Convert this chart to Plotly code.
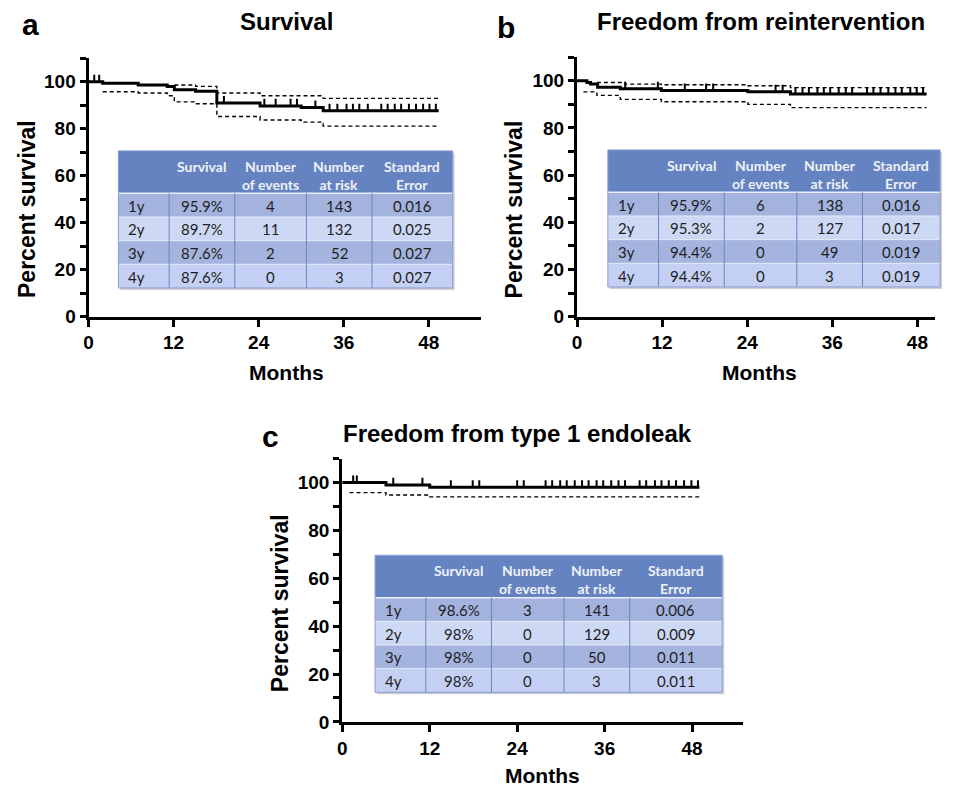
import plotly.graph_objects as go

W, H = 959, 799

# ---------------- data ----------------
MONTH_TICKS = [0, 12, 24, 36, 48]
PCT_TICKS = [0, 10, 20, 30, 40, 50, 60, 70, 80, 90, 100, 110]
PCT_LABELS = ["0", "", "20", "", "40", "", "60", "", "80", "", "100", ""]

# panel a: Survival
a_time = [0, 2.0, 7.0, 11.1, 12.1, 15.1, 18.1, 24.2, 30.0, 33.1, 49.4]
a_surv = [100, 99.3, 98.6, 97.9, 96.6, 95.9, 90.9, 89.7, 89.0, 87.6, 87.6]
a_up_time = [12.1, 15.1, 18.1, 24.2, 33.1, 49.4]
a_up = [98.6, 98.0, 95.2, 94.0, 92.9, 92.9]
a_lo_time = [2.0, 7.0, 11.1, 12.1, 15.1, 18.1, 24.2, 30.0, 33.1, 49.4]
a_lo = [95.7, 95.2, 94.0, 91.4, 90.6, 85.2, 83.7, 82.8, 81.1, 81.1]
a_cens = [0.8, 1.5, 19.1, 24.8, 26.4, 28.5, 29.4, 32.0, 34.0, 35.1, 36.4, 37.3,
          38.2, 39.4, 41.3, 42.2, 43.2, 44.1, 45.2, 46.2, 47.2, 48.1, 49.0]

# panel b: Freedom from reintervention
b_time = [0, 1.4, 1.9, 2.9, 6.1, 11.9, 24.1, 30.1, 49.3]
b_surv = [100, 99.3, 98.6, 97.3, 96.6, 95.9, 95.3, 94.4, 94.4]
b_up_time = [2.8, 6.8, 11.9, 24.1, 30.1, 49.3]
b_up = [99.3, 98.6, 98.3, 97.9, 97.1, 97.1]
b_lo_time = [0.9, 2.8, 6.1, 11.9, 24.1, 30.1, 49.3]
b_lo = [95.3, 93.8, 92.1, 91.1, 90.0, 88.6, 88.6]
b_cens = [6.8, 11.4, 15.2, 18.2, 19.2, 28.0, 29.0, 30.8, 31.8, 32.7, 33.9, 34.8,
          35.7, 36.9, 37.9, 38.8, 40.9, 41.8, 42.8, 43.9, 44.9, 45.8, 47.0, 47.9, 48.8]

# panel c: Freedom from type 1 endoleak
c_time = [0, 6.0, 12.0, 49.0]
c_surv = [100, 99.0, 98.0, 98.0]
c_lo_time = [1.0, 6.0, 12.0, 49.0]
c_lo = [95.8, 94.8, 94.0, 94.0]
c_cens = [1.5, 2.0, 7.0, 11.0, 14.9, 17.9, 18.8, 24.0, 24.9, 27.9, 28.8, 29.9, 30.8,
          31.9, 32.9, 33.8, 34.9, 35.8, 36.9, 37.9, 38.8, 40.8, 41.7, 42.9, 43.8,
          44.8, 45.8, 46.9, 47.9, 48.8]

# tables
tab_header = ["", "Survival", "Number<br>of events", "Number<br>at risk", "Standard<br>Error"]
tab_years = ["1y", "2y", "3y", "4y"]
a_tab_surv = ["95.9%", "89.7%", "87.6%", "87.6%"]
a_tab_events = ["4", "11", "2", "0"]
a_tab_risk = ["143", "132", "52", "3"]
a_tab_se = ["0.016", "0.025", "0.027", "0.027"]
b_tab_surv = ["95.9%", "95.3%", "94.4%", "94.4%"]
b_tab_events = ["6", "2", "0", "0"]
b_tab_risk = ["138", "127", "49", "3"]
b_tab_se = ["0.016", "0.017", "0.019", "0.019"]
c_tab_surv = ["98.6%", "98%", "98%", "98%"]
c_tab_events = ["3", "0", "0", "0"]
c_tab_risk = ["141", "129", "50", "3"]
c_tab_se = ["0.006", "0.009", "0.011", "0.011"]

# ---------------- helpers ----------------
def px(x):
    return x / W

def py(y):
    return 1 - y / H

def step_value(times, vals, t):
    v = vals[0]
    for tt, vv in zip(times, vals):
        if tt <= t:
            v = vv
    return v

FONT = "Liberation Sans"
TFONT = "Lato"
fig = go.Figure()

panels = [
    dict(sfx="", t=a_time, s=a_surv, ut=a_up_time, u=a_up, lt=a_lo_time, l=a_lo, cens=a_cens),
    dict(sfx="2", t=b_time, s=b_surv, ut=b_up_time, u=b_up, lt=b_lo_time, l=b_lo, cens=b_cens),
    dict(sfx="3", t=c_time, s=c_surv, ut=None, u=None, lt=c_lo_time, l=c_lo, cens=c_cens),
]

for p in panels:
    xa, ya = "x" + p["sfx"], "y" + p["sfx"]
    if p["ut"] is not None:
        fig.add_trace(go.Scatter(x=p["ut"], y=p["u"], mode="lines", xaxis=xa, yaxis=ya,
                                 line=dict(shape="hv", color="black", width=1.4, dash="4px,3px"),
                                 showlegend=False, hoverinfo="skip"))
    fig.add_trace(go.Scatter(x=p["lt"], y=p["l"], mode="lines", xaxis=xa, yaxis=ya,
                             line=dict(shape="hv", color="black", width=1.4, dash="4px,3px"),
                             showlegend=False, hoverinfo="skip"))
    fig.add_trace(go.Scatter(x=p["t"], y=p["s"], mode="lines", xaxis=xa, yaxis=ya,
                             line=dict(shape="hv", color="black", width=3),
                             showlegend=False, hoverinfo="skip"))
    cy = [step_value(p["t"], p["s"], c) + 1.5 for c in p["cens"]]
    fig.add_trace(go.Scatter(x=p["cens"], y=cy, mode="markers", xaxis=xa, yaxis=ya,
                             marker=dict(symbol="line-ns", size=5, line=dict(color="black", width=2)),
                             showlegend=False, hoverinfo="skip"))

def xaxis(x0, x1, rng, anchor):
    return dict(domain=[px(x0), px(x1)], range=[0, rng], anchor=anchor,
                showline=True, linecolor="black", linewidth=3, mirror=False,
                ticks="outside", ticklen=7, tickwidth=3, tickcolor="black",
                tickvals=MONTH_TICKS, showgrid=False, zeroline=False,
                tickfont=dict(family=FONT, size=19, color="black", weight="bold"))

def yaxis(y_top, y_bot, anchor):
    return dict(domain=[py(y_bot), py(y_top)], range=[0, 110], anchor=anchor,
                showline=True, linecolor="black", linewidth=3,
                ticks="outside", ticklen=6, tickwidth=3, tickcolor="black",
                tickvals=PCT_TICKS, ticktext=PCT_LABELS, showgrid=False, zeroline=False,
                tickfont=dict(family=FONT, size=19, color="black", weight="bold"))

fig.update_layout(
    width=W, height=H, autosize=False,
    margin=dict(l=0, r=0, t=0, b=0),
    paper_bgcolor="white", plot_bgcolor="white",
    xaxis=xaxis(84, 478, 55.3, "y"),
    yaxis=yaxis(59, 321, "x"),
    xaxis2=xaxis(575, 935, 50.5, "y2"),
    yaxis2=yaxis(58, 321, "x2"),
    xaxis3=xaxis(339, 742, 55.0, "y3"),
    yaxis3=yaxis(465, 732, "x3"),
)

# ---------------- tables (drawn as shapes + text) ----------------
HEADER_FILL = "#6583c1"
ROW_FILLS = ["#a3b3de", "#cdd8f4", "#a5b4de", "#c4d0f3"]
HDR_H = 43
ROW_H = 24

shapes = []

def rect(x0, y0, x1, y1, fill, line_color=None, lw=0):
    shapes.append(dict(type="rect", xref="paper", yref="paper",
                       x0=px(x0), x1=px(x1), y0=py(y1), y1=py(y0),
                       fillcolor=fill, line=dict(color=line_color or fill, width=lw), layer="above"))

def seg(x0, y0, x1, y1, color, lw=1):
    shapes.append(dict(type="line", xref="paper", yref="paper",
                       x0=px(x0), x1=px(x1), y0=py(y0), y1=py(y1),
                       line=dict(color=color, width=lw), layer="above"))

def add_table(x0, y0, colw, surv, events, risk, se):
    cols = [tab_years, surv, events, risk, se]
    edges = [x0]
    for w in colw:
        edges.append(edges[-1] + w)
    x1 = edges[-1]
    y_body = y0 + HDR_H
    y1 = y_body + ROW_H * len(tab_years)
    # shadow
    rect(x0 + 2, y0 + 2, x1 + 2, y1 + 2, "#cfcfd4")
    # header
    rect(x0, y0, x1, y_body, HEADER_FILL)
    for j, h in enumerate(tab_header):
        cx = (edges[j] + edges[j + 1]) / 2
        fig.add_annotation(x=px(cx), y=py(y0 + 5), xref="paper", yref="paper", text=h,
                           showarrow=False, xanchor="center", yanchor="top", align="center",
                           font=dict(family=TFONT, size=14, color="#eef1f8", weight="bold"))
    # body rows
    for i in range(len(tab_years)):
        ry0 = y_body + i * ROW_H
        rect(x0, ry0, x1, ry0 + ROW_H, ROW_FILLS[i])
        for j, col in enumerate(cols):
            if j == 0:
                tx, anc = edges[0] + 8, "left"
            else:
                tx, anc = (edges[j] + edges[j + 1]) / 2, "center"
            fig.add_annotation(x=px(tx), y=py(ry0 + ROW_H / 2 + 0.5), xref="paper", yref="paper",
                               text=col[i], showarrow=False, xanchor=anc, yanchor="middle",
                               font=dict(family=TFONT, size=15, color="#1e1e24"))
    # grid lines
    for i in range(1, len(tab_years)):
        seg(x0, y_body + i * ROW_H, x1, y_body + i * ROW_H, "#e4eaf8", 1)
    seg(x0, y_body, x1, y_body, "#e8edf9", 1.5)
    for e in edges[1:-1]:
        seg(e, y_body, e, y1, "#6c84c3", 1)
    # outer border
    shapes.append(dict(type="rect", xref="paper", yref="paper",
                       x0=px(x0), x1=px(x1), y0=py(y1), y1=py(y0),
                       fillcolor="rgba(0,0,0,0)", line=dict(color="#8a9dd2", width=1), layer="above"))

add_table(114, 153, [51, 66, 72, 66, 81], a_tab_surv, a_tab_events, a_tab_risk, a_tab_se)
add_table(606, 152, [51, 66, 73, 66, 78], b_tab_surv, b_tab_events, b_tab_risk, b_tab_se)
add_table(372, 563, [51, 66, 73, 66, 93], c_tab_surv, c_tab_events, c_tab_risk, c_tab_se)

fig.update_layout(shapes=shapes)

def text(x, y, s, size, angle=0, xanchor="center"):
    fig.add_annotation(x=px(x), y=py(y), xref="paper", yref="paper", text=s, showarrow=False,
                       textangle=angle, xanchor=xanchor, yanchor="middle",
                       font=dict(family=FONT, size=size, color="black", weight="bold"))

# panel letters and titles
text(26, 25, "a", 30)
text(504, 28, "b", 30)
text(267, 443, "c", 30)
text(283, 22, "Survival", 24)
text(760, 22, "Freedom from reintervention", 24)
text(515, 440, "Freedom from type 1 endoleak", 24)
# axis titles
text(283, 378, "Months", 21)
text(758, 378, "Months", 21)
text(540, 786, "Months", 21)
text(22, 212, "Percent survival", 23, angle=-90)
text(512, 212, "Percent survival", 23, angle=-90)
text(276, 612, "Percent survival", 23, angle=-90)

fig.write_html("out.html")
